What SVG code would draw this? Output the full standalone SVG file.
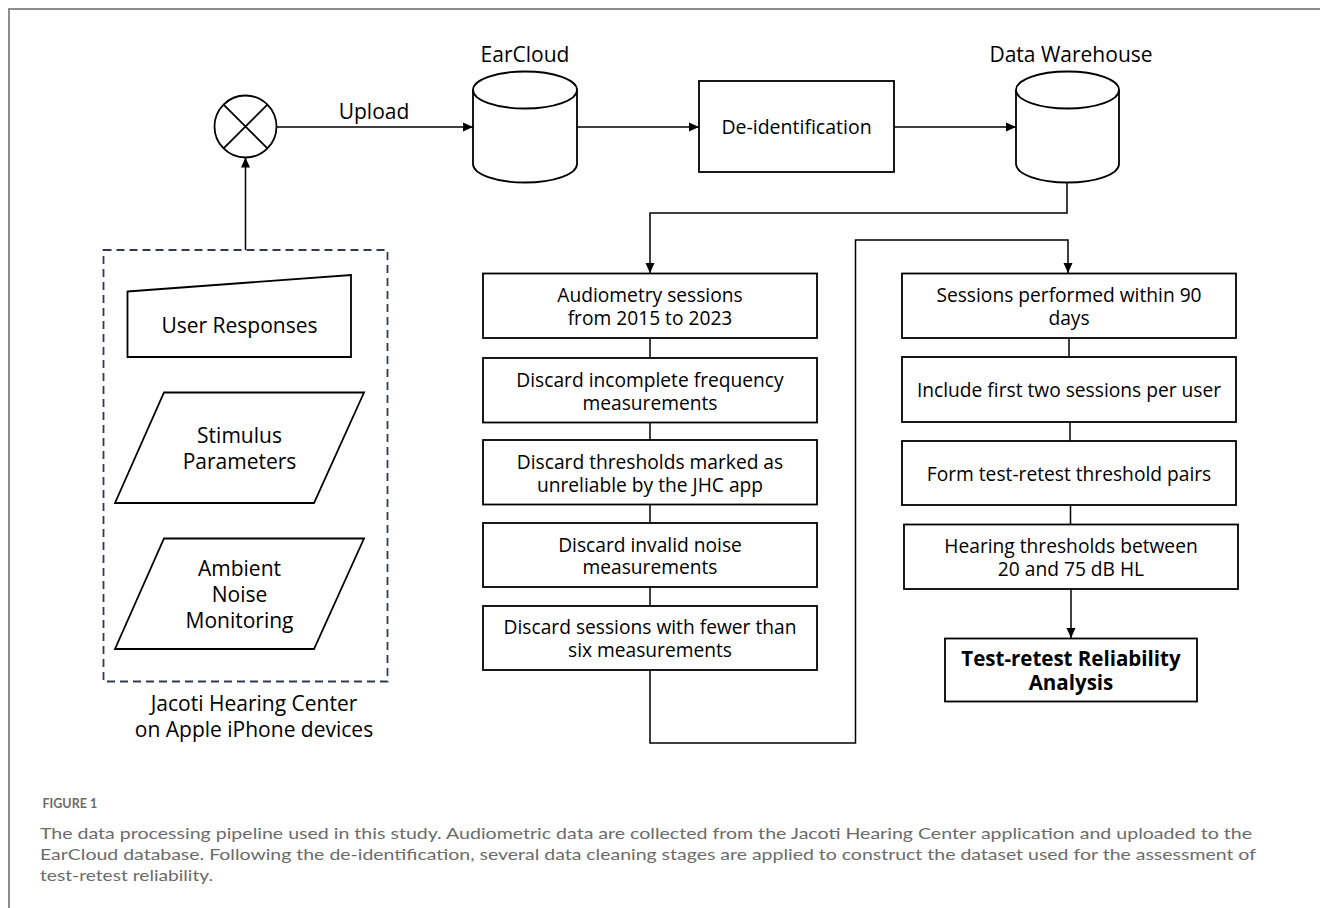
<svg xmlns="http://www.w3.org/2000/svg" width="1320" height="908" viewBox="0 0 1320 908">
<style>
.n{fill:#fff;stroke:#000;stroke-width:1.8}
.t{font-family:"Open Sans","Noto Sans",sans-serif;font-size:19.2px;fill:#000;text-anchor:middle}
.l{font-family:"Open Sans","Noto Sans",sans-serif;font-size:21px;fill:#000;text-anchor:middle}
.b{font-family:"Open Sans","Noto Sans",sans-serif;font-size:20.5px;font-weight:bold;fill:#000;text-anchor:middle}
.c{fill:none;stroke:#000;stroke-width:1.5}
.cap{font-family:Lato,"Open Sans",sans-serif;font-size:16px;fill:#6b6b6b}
</style>
<defs>
<marker id="ah" markerWidth="10" markerHeight="10" refX="10" refY="5" orient="auto" markerUnits="userSpaceOnUse">
<path d="M0,0.5 L10,5 L0,9.5 Z" fill="#000"/>
</marker>
</defs>
<rect width="1320" height="908" fill="#fff"/>
<path d="M9,908 L9,9 L1320,9" fill="none" stroke="#8c8c8c" stroke-width="2"/>

<g id="connectors">
<path class="c" d="M277,127 L473,127" marker-end="url(#ah)"/>
<path class="c" d="M577,127 L699,127" marker-end="url(#ah)"/>
<path class="c" d="M894,127 L1016,127" marker-end="url(#ah)"/>
<path class="c" d="M245.5,250 L245.5,157.5" marker-end="url(#ah)"/>
<path class="c" d="M1067,183 L1067,213 L650,213 L650,273" marker-end="url(#ah)"/>
<path class="c" d="M650,338 L650,358"/>
<path class="c" d="M650,422 L650,440"/>
<path class="c" d="M650,504 L650,523"/>
<path class="c" d="M650,587 L650,606"/>
<path class="c" d="M650,670 L650,743 L855.5,743 L855.5,240 L1068,240 L1068,273" marker-end="url(#ah)"/>
<path class="c" d="M1069,338 L1069,357"/>
<path class="c" d="M1070,422 L1070,441"/>
<path class="c" d="M1070.5,505 L1070.5,524"/>
<path class="c" d="M1071,589 L1071,638" marker-end="url(#ah)"/>
</g>

<g id="upload-label">
<text class="l" x="374" y="119">Upload</text>
</g>

<g id="mixer">
<circle cx="245.5" cy="126.5" r="31" class="n"/>
<path d="M223.6,104.6 L267.4,148.4 M267.4,104.6 L223.6,148.4" stroke="#000" stroke-width="1.8"/>
</g>

<g id="earcloud">
<path class="n" d="M473,90 A52,18.5 0 0,1 577,90 L577,164 A52,18.5 0 0,1 473,164 Z"/>
<path d="M473,90 A52,18.5 0 0,0 577,90" fill="none" stroke="#000" stroke-width="1.8"/>
<text class="l" x="525" y="62">EarCloud</text>
</g>

<g id="deid">
<rect class="n" x="699" y="81" width="195" height="91"/>
<text class="t" x="796.5" y="134" style="font-size:19.5px">De-identification</text>
</g>

<g id="warehouse">
<path class="n" d="M1016,90 A51.5,18.5 0 0,1 1119,90 L1119,164 A51.5,18.5 0 0,1 1016,164 Z"/>
<path d="M1016,90 A51.5,18.5 0 0,0 1119,90" fill="none" stroke="#000" stroke-width="1.8"/>
<text class="l" x="1071" y="62">Data Warehouse</text>
</g>

<g id="jhc">
<rect x="103.5" y="250" width="284" height="431.5" fill="none" stroke="#2e3b55" stroke-width="1.8" stroke-dasharray="8,5"/>
<text class="l" x="254" y="711">Jacoti Hearing Center</text>
<text class="l" x="254" y="737">on Apple iPhone devices</text>
</g>

<g id="user-responses">
<path class="n" d="M127.5,291.5 L351,275 L351,357 L127.5,357 Z"/>
<text class="l" x="239.5" y="333">User Responses</text>
</g>

<g id="stimulus">
<path class="n" d="M164,392.5 L364,392.5 L314,503 L115,503 Z"/>
<text class="l" x="239.5" y="443">Stimulus</text>
<text class="l" x="239.5" y="469">Parameters</text>
</g>

<g id="ambient">
<path class="n" d="M164,538.5 L364,538.5 L314,649 L115,649 Z"/>
<text class="l" x="239.5" y="576">Ambient</text>
<text class="l" x="239.5" y="602">Noise</text>
<text class="l" x="239.5" y="628">Monitoring</text>
</g>

<g id="audiometry">
<rect class="n" x="483" y="273.5" width="334" height="64.5"/>
<text class="t" x="650" y="301.5">Audiometry sessions</text>
<text class="t" x="650" y="324.5">from 2015 to 2023</text>
</g>

<g id="discard-incomplete">
<rect class="n" x="483" y="358" width="334" height="64.5"/>
<text class="t" x="650" y="386.5">Discard incomplete frequency</text>
<text class="t" x="650" y="409.5">measurements</text>
</g>

<g id="discard-thresholds">
<rect class="n" x="483" y="440" width="334" height="64.5"/>
<text class="t" x="650" y="469">Discard thresholds marked as</text>
<text class="t" x="650" y="492">unreliable by the JHC app</text>
</g>

<g id="discard-noise">
<rect class="n" x="483" y="523" width="334" height="64"/>
<text class="t" x="650" y="551.5">Discard invalid noise</text>
<text class="t" x="650" y="574">measurements</text>
</g>

<g id="discard-sessions">
<rect class="n" x="483" y="606" width="334" height="64"/>
<text class="t" x="650" y="634">Discard sessions with fewer than</text>
<text class="t" x="650" y="657">six measurements</text>
</g>

<g id="sessions-90">
<rect class="n" x="902" y="273.5" width="334" height="64.5"/>
<text class="t" x="1069" y="301.5">Sessions performed within 90</text>
<text class="t" x="1069" y="324.5">days</text>
</g>

<g id="first-two">
<rect class="n" x="902" y="357" width="334" height="65"/>
<text class="t" x="1069" y="396.5">Include first two sessions per user</text>
</g>

<g id="pairs">
<rect class="n" x="902" y="441" width="334" height="64"/>
<text class="t" x="1069" y="480.5">Form test-retest threshold pairs</text>
</g>

<g id="hearing">
<rect class="n" x="904" y="524.5" width="334" height="64.5"/>
<text class="t" x="1071" y="552.5">Hearing thresholds between</text>
<text class="t" x="1071" y="575.5">20 and 75 dB HL</text>
</g>

<g id="analysis">
<rect class="n" x="945" y="638.5" width="252" height="63"/>
<text class="b" x="1071" y="665.5">Test-retest Reliability</text>
<text class="b" x="1071" y="690">Analysis</text>
</g>

<g id="caption">
<text x="42.5" y="808" style="font-family:Lato,'Open Sans',sans-serif;font-size:12.5px;font-weight:bold;fill:#6b6b6b">FIGURE 1</text>
<text class="cap" x="40" y="839" textLength="1212" lengthAdjust="spacingAndGlyphs">The data processing pipeline used in this study. Audiometric data are collected from the Jacoti Hearing Center application and uploaded to the</text>
<text class="cap" x="40" y="860" textLength="1216" lengthAdjust="spacingAndGlyphs">EarCloud database. Following the de-identification, several data cleaning stages are applied to construct the dataset used for the assessment of</text>
<text class="cap" x="40" y="881" textLength="173" lengthAdjust="spacingAndGlyphs">test-retest reliability.</text>
</g>
</svg>
